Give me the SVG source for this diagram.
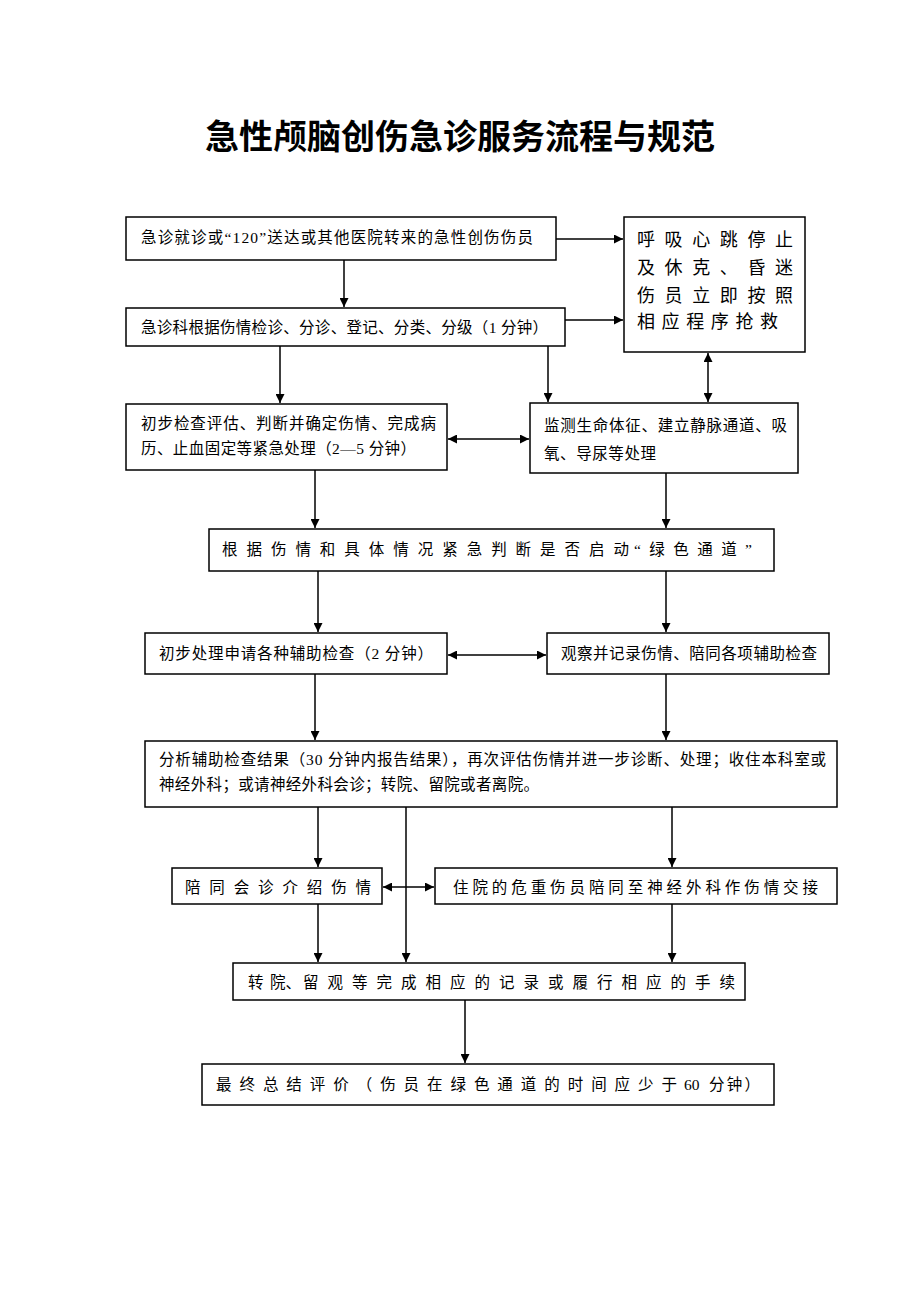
<svg xmlns="http://www.w3.org/2000/svg" width="920" height="1302" viewBox="0 0 920 1302">
<style>
.box{fill:#fff;stroke:#000;stroke-width:1.5}
.t{font-family:"Liberation Serif","Noto Sans CJK SC",serif;font-size:15.5px;fill:#000;dominant-baseline:central}
.t2{font-family:"Liberation Serif","Noto Sans CJK SC",serif;font-size:18px;fill:#000;dominant-baseline:central}
.title{font-family:"Liberation Serif","Noto Sans CJK SC",serif;font-size:34px;font-weight:bold;fill:#000;text-anchor:middle}
.c{fill:none;stroke:#000;stroke-width:1.5}
</style>
<defs>
<marker id="ah" viewBox="0 0 10 10" refX="10" refY="5" markerWidth="9" markerHeight="9" markerUnits="userSpaceOnUse" orient="auto-start-reverse">
<path d="M0,0 L10,5 L0,10 z" fill="#000"/>
</marker>
</defs>
<rect width="920" height="1302" fill="#fff"/>
<text class="title" x="460" y="149" textLength="510" lengthAdjust="spacing">急性颅脑创伤急诊服务流程与规范</text>

<g id="connectors">
<line class="c" x1="556" y1="239" x2="623" y2="239" marker-end="url(#ah)"/>
<line class="c" x1="344" y1="260" x2="344" y2="307" marker-end="url(#ah)"/>
<line class="c" x1="565" y1="320" x2="623" y2="320" marker-end="url(#ah)"/>
<line class="c" x1="280" y1="346" x2="280" y2="403" marker-end="url(#ah)"/>
<line class="c" x1="548" y1="346" x2="548" y2="402" marker-end="url(#ah)"/>
<line class="c" x1="708" y1="353" x2="708" y2="402" marker-start="url(#ah)" marker-end="url(#ah)"/>
<line class="c" x1="448" y1="439" x2="529" y2="439" marker-start="url(#ah)" marker-end="url(#ah)"/>
<line class="c" x1="315" y1="470" x2="315" y2="528" marker-end="url(#ah)"/>
<line class="c" x1="666" y1="473" x2="666" y2="528" marker-end="url(#ah)"/>
<line class="c" x1="318" y1="571" x2="318" y2="632" marker-end="url(#ah)"/>
<line class="c" x1="666" y1="571" x2="666" y2="632" marker-end="url(#ah)"/>
<line class="c" x1="448" y1="655" x2="546" y2="655" marker-start="url(#ah)" marker-end="url(#ah)"/>
<line class="c" x1="315" y1="674" x2="315" y2="740" marker-end="url(#ah)"/>
<line class="c" x1="666" y1="674" x2="666" y2="740" marker-end="url(#ah)"/>
<line class="c" x1="318" y1="807" x2="318" y2="867" marker-end="url(#ah)"/>
<line class="c" x1="406" y1="807" x2="406" y2="962" marker-end="url(#ah)"/>
<line class="c" x1="672" y1="807" x2="672" y2="867" marker-end="url(#ah)"/>
<line class="c" x1="383" y1="887" x2="434" y2="887" marker-start="url(#ah)" marker-end="url(#ah)"/>
<line class="c" x1="318" y1="904" x2="318" y2="962" marker-end="url(#ah)"/>
<line class="c" x1="672" y1="904" x2="672" y2="962" marker-end="url(#ah)"/>
<line class="c" x1="465" y1="1000" x2="465" y2="1063" marker-end="url(#ah)"/>
</g>

<g id="n1"><rect class="box" x="126" y="217" width="430" height="43"/>
<text class="t" x="141" y="237" textLength="392" lengthAdjust="spacing">急诊就诊或“120”送达或其他医院转来的急性创伤伤员</text></g>

<g id="n2"><rect class="box" x="624" y="217" width="181" height="135"/>
<text class="t2" x="637" y="240" textLength="156" lengthAdjust="spacing">呼吸心跳停止</text>
<text class="t2" x="637" y="268" textLength="156" lengthAdjust="spacing">及休克、昏迷</text>
<text class="t2" x="637" y="296" textLength="156" lengthAdjust="spacing">伤员立即按照</text>
<text class="t2" x="637" y="322" textLength="141" lengthAdjust="spacing">相应程序抢救</text></g>

<g id="n3"><rect class="box" x="126" y="308" width="439" height="38"/>
<text class="t" x="141" y="327" textLength="407" lengthAdjust="spacing">急诊科根据伤情检诊、分诊、登记、分类、分级（1 分钟）</text></g>

<g id="n4"><rect class="box" x="126" y="404" width="321" height="66"/>
<text class="t" x="141" y="423" textLength="295" lengthAdjust="spacing">初步检查评估、判断并确定伤情、完成病</text>
<text class="t" x="141" y="448" textLength="275" lengthAdjust="spacing">历、止血固定等紧急处理（2—5 分钟）</text></g>

<g id="n5"><rect class="box" x="530" y="403" width="268" height="70"/>
<text class="t" x="544" y="425" textLength="243" lengthAdjust="spacing">监测生命体征、建立静脉通道、吸</text>
<text class="t" x="544" y="453" textLength="112" lengthAdjust="spacing">氧、导尿等处理</text></g>

<g id="n6"><rect class="box" x="209" y="529" width="565" height="42"/>
<text class="t" x="222" y="549" textLength="407" lengthAdjust="spacing">根据伤情和具体情况紧急判断是否启动</text>
<text class="t" x="634" y="549" textLength="118" lengthAdjust="spacing">“绿色通道”</text></g>

<g id="n7"><rect class="box" x="145" y="633" width="302" height="41"/>
<text class="t" x="159" y="653" textLength="274" lengthAdjust="spacing">初步处理申请各种辅助检查（2 分钟）</text></g>

<g id="n8"><rect class="box" x="547" y="633" width="282" height="41"/>
<text class="t" x="561" y="653" textLength="256" lengthAdjust="spacing">观察并记录伤情、陪同各项辅助检查</text></g>

<g id="n9"><rect class="box" x="145" y="741" width="692" height="66"/>
<text class="t" x="159" y="759" textLength="667" lengthAdjust="spacing">分析辅助检查结果（30 分钟内报告结果），再次评估伤情并进一步诊断、处理；收住本科室或</text>
<text class="t" x="159" y="784" textLength="380" lengthAdjust="spacing">神经外科；或请神经外科会诊；转院、留院或者离院。</text></g>

<g id="n10"><rect class="box" x="172" y="868" width="210" height="36"/>
<text class="t" x="185" y="887" textLength="186" lengthAdjust="spacing">陪同会诊介绍伤情</text></g>

<g id="n11"><rect class="box" x="435" y="868" width="402" height="36"/>
<text class="t" x="453" y="887" textLength="365" lengthAdjust="spacing">住院的危重伤员陪同至神经外科作伤情交接</text></g>

<g id="n12"><rect class="box" x="233" y="963" width="512" height="37"/>
<text class="t" x="248" y="982">转</text>
<text class="t" x="270" y="982">院、</text>
<text class="t" x="303" y="982" textLength="432" lengthAdjust="spacing">留观等完成相应的记录或履行相应的手续</text></g>

<g id="n13"><rect class="box" x="202" y="1064" width="572" height="41"/>
<text class="t" x="216" y="1084" textLength="461" lengthAdjust="spacing">最终总结评价（伤员在绿色通道的时间应少于</text>
<text class="t" x="684" y="1084">60</text>
<text class="t" x="709" y="1084" textLength="51" lengthAdjust="spacing">分钟）</text></g>
</svg>
